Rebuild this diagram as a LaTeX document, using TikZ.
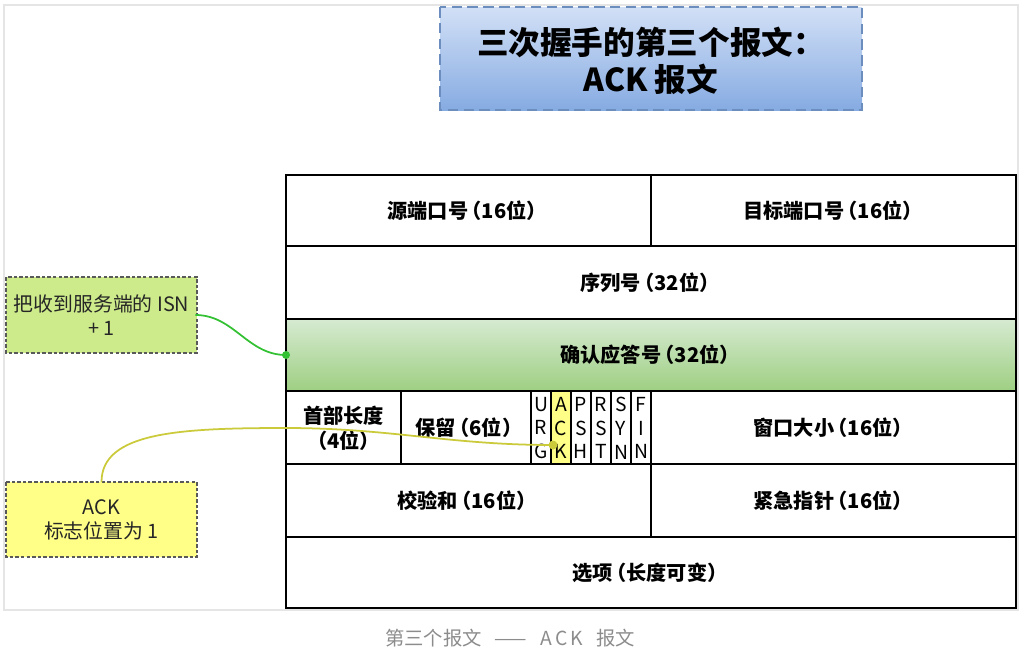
\documentclass[tikz,border=0pt]{standalone}
\usepackage{fontspec}
\setmainfont{Noto Sans CJK SC}
\newfontfamily\fieldfont[RawFeature=+halt]{Noto Sans CJK SC}
\usepackage{tikz}
\definecolor{titletop}{HTML}{D2E0F6}
\definecolor{titlebot}{HTML}{86ABE2}
\definecolor{titleline}{HTML}{6C8EBF}
\definecolor{acktop}{HTML}{D6EAD1}
\definecolor{ackbot}{HTML}{9ECF82}
\definecolor{notegreen}{HTML}{CDEB8B}
\definecolor{noteyellow}{HTML}{FFFF88}
\definecolor{linkgreen}{HTML}{33C133}
\definecolor{linkyellow}{HTML}{CACA3A}

\begin{document}
\begin{tikzpicture}[x=0.02cm, y=-0.02cm,
  field/.style={draw=black, line width=1.2pt},
  fieldtxt/.style={font=\fieldfont\fontsize{11.5}{14}\selectfont\bfseries, align=center},
  flagtxt/.style={font=\fontsize{11}{13.6}\selectfont, align=center, inner sep=0pt},
  notebox/.style={draw=black!65, dash pattern=on 2pt off 1.2pt, line width=0.8pt},
  notetxt/.style={font=\fontsize{11.3}{14}\selectfont, align=center, text=black!85}]
\useasboundingbox (0,0) rectangle (1030,653);
\draw [black!10, line width=0.6pt] (4,5) rectangle (1018,610);
%
\shade [top color=titletop, bottom color=titlebot] (440,7) rectangle (862,110);
\draw [titleline, line width=1.5pt, dash pattern=on 6pt off 3pt] (440,7) rectangle (862,110);
\node (title) at (651,61) [align=center, font=\fontsize{18}{21}\selectfont\bfseries] {三次握手的第三个报文：\\ACK 报文};
%
\draw [field, fill=white] (286,175) rectangle (651,246);
\draw [field, fill=white] (651,175) rectangle (1016,246);
\draw [field, fill=white] (286,246) rectangle (1016,319);
\shade [top color=acktop, bottom color=ackbot] (286,319) rectangle (1016,391);
\draw [field] (286,319) rectangle (1016,391);
\draw [field, fill=white] (286,391) rectangle (401,464);
\draw [field, fill=white] (401,391) rectangle (531,464);
\draw [field, fill=white] (651,391) rectangle (1016,464);
\draw [field, fill=white] (286,464) rectangle (651,537);
\draw [field, fill=white] (651,464) rectangle (1016,537);
\draw [field, fill=white] (286,537) rectangle (1016,608);
%
\node [fieldtxt] (srcport) at (462,211) {源端口号\,（16位）};
\node [fieldtxt] (dstport) at (828,211) {目标端口号\,（16位）};
\node [fieldtxt] (seqnum) at (645,283) {序列号\,（32位）};
\node [fieldtxt] (acknum) at (645,355) {确认应答号\,（32位）};
\node [fieldtxt] (hdrlen) at (343.5,428) {首部长度\\（4位）};
\node [fieldtxt] (rsvd) at (464,428) {保留\,（6位）};
\node [fieldtxt] (window) at (828,428) {窗口大小\,（16位）};
\node [fieldtxt] (chksum) at (462,501) {校验和\,（16位）};
\node [fieldtxt] (urgptr) at (828,501) {紧急指针\,（16位）};
\node [fieldtxt] (options) at (645,573) {选项\,（长度可变）};
%
\foreach \a/\b/\c/\col [count=\i from 0] in {U/R/G/white, A/C/K/noteyellow, P/S/H/white, R/S/T/white, S/Y/N/white, F/I/N/white}
{
  \draw [field, fill=\col] (531+20*\i,391) rectangle (551+20*\i,464);
  \node [flagtxt] (flag\i) at (541+20*\i,428) {\a\\\b\\\c};
}
%
\filldraw [notebox, fill=notegreen] (6,277) rectangle (197,353);
\node [notetxt] (isnnote) at (101.5,315) {把收到服务端的 ISN\\+ 1};
\filldraw [notebox, fill=noteyellow] (6,482) rectangle (197,557);
\node [notetxt] (flagnote) at (101.5,520) {ACK\\标志位置为 1};
%
\coordinate (ackdot) at (286,355);
\coordinate (flagdot) at (553,445);
\coordinate (ybend) at (286,428);
\draw [linkgreen, line width=1pt] (isnnote.east |- 197,315) to[out=0, in=180] (ackdot);
\fill [linkgreen] (ackdot) circle (4);
\draw [linkyellow, line width=1pt] (101.5,482) .. controls (101.5,432) and (180,428) .. (ybend) to[out=0, in=180] (flagdot);
\fill [linkyellow] (flagdot) circle (4.5);
%
\node (caption) at (510,638) [text=black!45, font=\fontsize{11}{12}\selectfont] {第三个报文\ \ \ —— \ \ A\,C\,K\ \ \ 报文};
\end{tikzpicture}
\end{document}
